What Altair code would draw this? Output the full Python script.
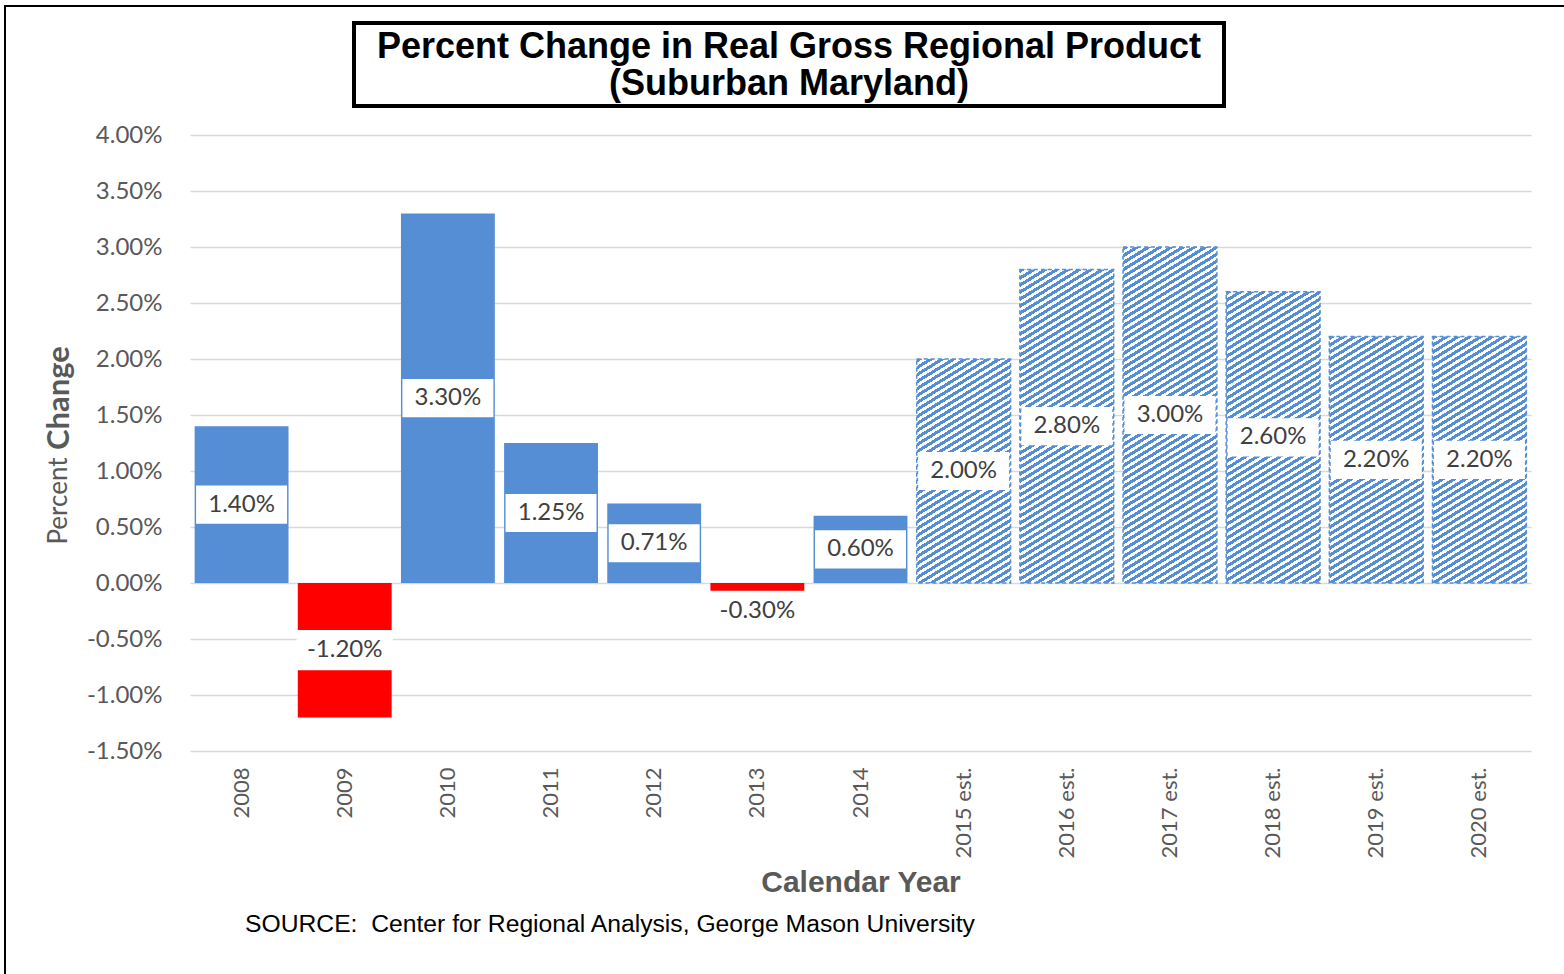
import altair as alt
import pandas as pd

# ---- data ----
years = ["2008", "2009", "2010", "2011", "2012", "2013", "2014",
         "2015 est.", "2016 est.", "2017 est.", "2018 est.", "2019 est.", "2020 est."]
values = [1.40, -1.20, 3.30, 1.25, 0.71, -0.30, 0.60,
          2.00, 2.80, 3.00, 2.60, 2.20, 2.20]
y_ticks = [-1.5, -1.0, -0.5, 0.0, 0.5, 1.0, 1.5, 2.0, 2.5, 3.0, 3.5, 4.0]

title_line1 = "Percent Change in Real Gross Regional Product"
title_line2 = "(Suburban Maryland)"
source_text = "SOURCE:\u00a0 Center for Regional Analysis, George Mason University"

df = pd.DataFrame({"year": years, "value": values})
df["estimate"] = df["year"].str.contains("est.")

# ---- layout ----
W, H = 1341, 616
Y_MIN, Y_MAX = -1.5, 4.0
PAD_INNER = 0.09
BLUE = "#558ED5"
RED = "#FF0000"
GRID = "#D9D9D9"
TXT = "#595959"
LBL = "#404040"
FONT = "Lato"

x_enc = alt.X("year:N", sort=years,
              scale=alt.Scale(paddingInner=PAD_INNER, paddingOuter=PAD_INNER / 2),
              axis=alt.Axis(title="Calendar Year", labelAngle=-90, labelFont=FONT,
                            labelFontSize=22, labelColor=TXT, labelPadding=16,
                            ticks=False, domain=False, grid=False,
                            titleFont="Liberation Sans", titleFontSize=30,
                            titleFontWeight="bold", titleColor=TXT,
                            titleY=131, titleBaseline="middle"))
y_scale = alt.Scale(domain=[Y_MIN, Y_MAX], nice=False)
y_enc = alt.Y("value:Q", scale=y_scale,
              axis=alt.Axis(title=None, values=y_ticks,
                            labelExpr="replace(format(datum.value, '.2f'), '\u2212', '-') + '%'",
                            labelFont=FONT, labelFontSize=24, labelColor=TXT,
                            labelPadding=28, ticks=False, domain=False,
                            grid=True, gridColor=GRID, gridWidth=1.5))

base = alt.Chart(df)

solid = base.transform_filter("!datum.estimate").mark_bar().encode(
    x=x_enc, y=y_enc, y2=alt.datum(0),
    color=alt.condition("datum.value < 0", alt.value(RED), alt.value(BLUE)),
)

# hatched estimate bars: striped linear gradient
step = W / (len(years) - PAD_INNER + PAD_INNER)
bar_w = step * (1 - PAD_INNER)
px_per_unit = H / (Y_MAX - Y_MIN)
PX, PY = 11.4, 7.0   # horizontal / vertical stripe period in pixels
duty = 0.52

hatched_layers = []
for yr, v in zip(years, values):
    if "est." not in yr:
        continue
    h = abs(v) * px_per_unit
    A, B = bar_w / PX, h / PY
    k = (A + B) / (A ** 2 + B ** 2)
    n = A + B
    stops = []
    i = 0
    while i / n < 1:
        a = i / n
        b = min(1.0, (i + duty) / n)
        c = min(1.0, (i + 1) / n)
        stops += [alt.GradientStop(offset=a, color=BLUE),
                  alt.GradientStop(offset=b, color=BLUE)]
        if b < 1.0:
            stops += [alt.GradientStop(offset=b, color="white"),
                      alt.GradientStop(offset=c, color="white")]
        i += 1
    grad = alt.LinearGradient(gradient="linear", stops=stops,
                              x1=0, y1=0, x2=k * A, y2=k * B)
    hatched_layers.append(
        base.transform_filter(alt.datum.year == yr).mark_bar(
            fill=grad, stroke=BLUE, strokeWidth=1.5, strokeDash=[4, 3]
        ).encode(x=x_enc, y=y_enc, y2=alt.datum(0))
    )

shift = 11 / px_per_unit  # the 2013 label sits a little below its bar centre
label_base = base.transform_calculate(
    mid=f"datum.value / 2 - (datum.year == '2013' ? {shift} : 0)",
    txt="replace(format(datum.value, '.2f'), '\u2212', '-') + '%'",
)

boxes = label_base.mark_point(
    shape="M-1,-0.42H1V0.42H-1Z", filled=True, fill="white",
    strokeWidth=0, opacity=1,
).encode(
    x=x_enc, y=alt.Y("mid:Q", scale=y_scale),
    size=alt.condition("datum.value < 0", alt.value(96 * 96), alt.value(91 * 91)),
)

labels = label_base.mark_text(font=FONT, fontSize=24, color=LBL,
                              baseline="middle", align="center").encode(
    x=x_enc, y=alt.Y("mid:Q", scale=y_scale), text="txt:N",
)

one = alt.Data(values=[{}])

outer = alt.Chart(one).mark_rect(fill=None, stroke="black", strokeWidth=2).encode(
    x=alt.value(-185), x2=alt.value(1500), y=alt.value(-129), y2=alt.value(1000))

title_box = alt.Chart(one).mark_rect(fill="white", stroke="black", strokeWidth=4).encode(
    x=alt.value(164), x2=alt.value(1034), y=alt.value(-112), y2=alt.value(-29))

title_a = alt.Chart(one).mark_text(
    font="Liberation Sans", fontSize=36, fontWeight="bold", color="black",
    align="center", baseline="middle",
).encode(x=alt.value(599), y=alt.value(-88), text=alt.value(title_line1))

title_b = alt.Chart(one).mark_text(
    font="Liberation Sans", fontSize=36, fontWeight="bold", color="black",
    align="center", baseline="middle",
).encode(x=alt.value(599), y=alt.value(-51), text=alt.value(title_line2))

ytitle_a = alt.Chart(one).mark_text(
    font=FONT, fontSize=26, color=TXT, angle=270, align="center", baseline="middle"
).encode(x=alt.value(-131), y=alt.value(366), text=alt.value("Percent"))

ytitle_b = alt.Chart(one).mark_text(
    font=FONT, fontSize=31, fontWeight="bold", color=TXT, angle=270,
    align="center", baseline="middle"
).encode(x=alt.value(-130), y=alt.value(263), text=alt.value("Change"))

source = alt.Chart(one).mark_text(
    font="Liberation Sans", fontSize=24.7, color="black", align="left", baseline="middle"
).encode(x=alt.value(55), y=alt.value(790), text=alt.value(source_text))

chart = alt.layer(
    outer, solid, *hatched_layers, boxes, labels,
    title_box, title_a, title_b, ytitle_a, ytitle_b, source,
).properties(
    width=W, height=H,
    autosize=alt.AutoSizeParams(type="none"),
    padding={"left": 190, "top": 135, "right": 33, "bottom": 223},
).configure(background="white").configure_view(stroke=None)

chart.save("out.html", embed_options={"renderer": "svg", "actions": False})
